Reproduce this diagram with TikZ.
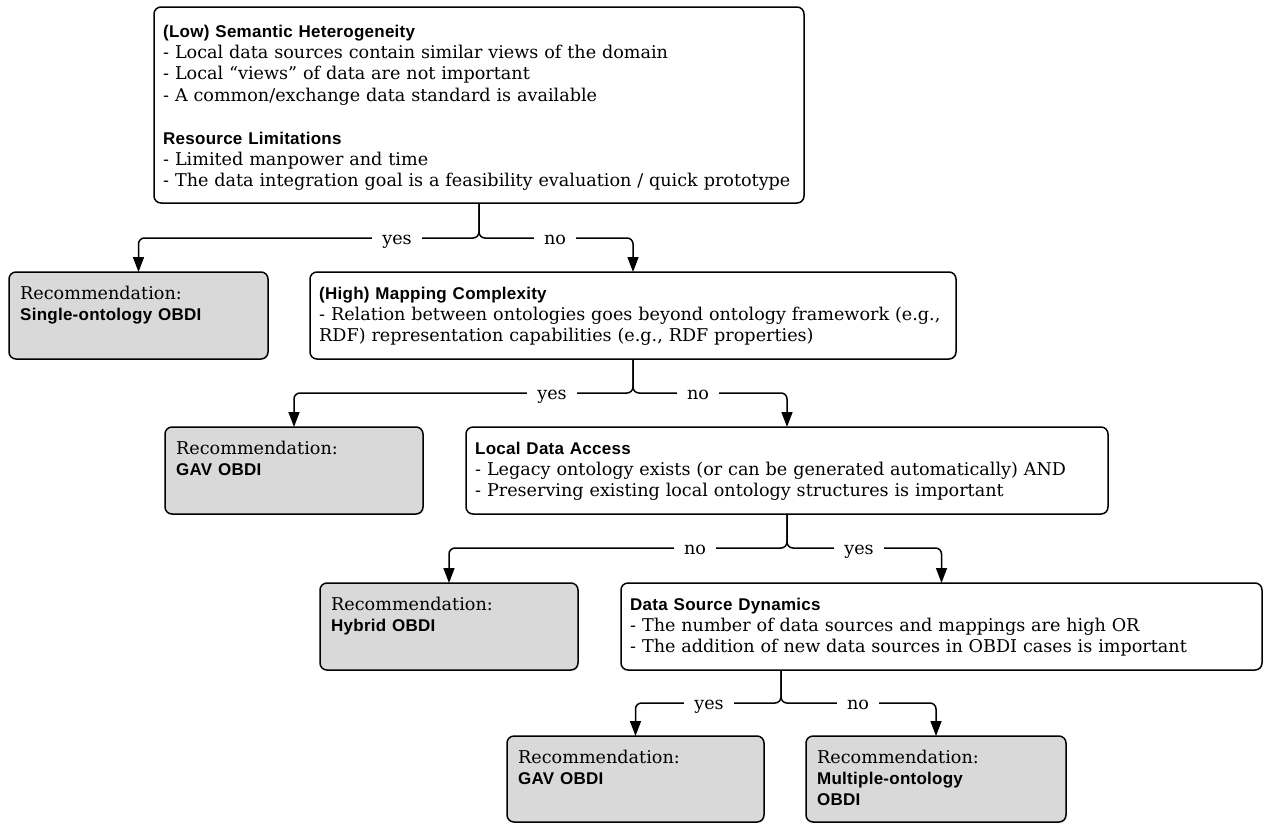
\documentclass[tikz,border=0pt]{standalone}
\usepackage{fontspec}
\setmainfont{DejaVu Serif}
\newfontfamily\hdfam[LetterSpace=1.5]{Liberation Sans}
\usetikzlibrary{arrows.meta}
\definecolor{recfill}{RGB}{217,217,217}
\newcommand\bodyfont{\fontsize{17.6}{21.4}\selectfont}
\newcommand\hdf{\hdfam\bfseries\fontsize{17}{21.4}\selectfont}
\tikzset{
  box/.style={draw, line width=1.5pt, rounded corners=7pt, anchor=north west, inner sep=0pt, outer sep=0pt},
  cond/.style={box, fill=white},
  rec/.style={box, fill=recfill},
  txt/.style={anchor=base west, inner sep=0pt, align=left, font=\bodyfont},
  lbl/.style={fill=white, inner xsep=10pt, inner ysep=3pt, font=\bodyfont, anchor=base},
  flow/.style={line width=1.5pt, rounded corners=6pt, -{Triangle[length=15pt,width=11pt]}},
}
\begin{document}
\begin{tikzpicture}[x=1pt, y=-1pt]
\useasboundingbox (0,0) rectangle (1264,823);
% boxes
\node[cond, minimum width=650pt, minimum height=196pt] (b1) at (154,7) {};
\node[rec,  minimum width=259pt, minimum height=87pt] (r1) at (9,272) {};
\node[cond, minimum width=646pt, minimum height=87pt] (b2) at (310,272) {};
\node[rec,  minimum width=258pt, minimum height=87pt] (r2) at (165,427) {};
\node[cond, minimum width=642pt, minimum height=87pt] (b3) at (466,427) {};
\node[rec,  minimum width=258pt, minimum height=87pt] (r3) at (320,583) {};
\node[cond, minimum width=641pt, minimum height=87pt] (b4) at (621,583) {};
\node[rec,  minimum width=257pt, minimum height=86pt] (r4) at (507,736) {};
\node[rec,  minimum width=260pt, minimum height=86pt] (r5) at (806,736) {};
% texts
\node[txt, text width=635pt] (t1) at ([xshift=9pt,yshift=-30pt]b1.north west)
  {{\hdf (Low) Semantic Heterogeneity}\\
   - Local data sources contain similar views of the domain\\
   - Local “views” of data are not important\\
   - A common/exchange data standard is available\\[21.4pt]
   {\hdf Resource Limitations}\\
   - Limited manpower and time\\
   - The data integration goal is a feasibility evaluation / quick prototype};
\node[txt, text width=240pt] (tr1) at ([xshift=11pt,yshift=-27pt]r1.north west)
  {Recommendation:\\{\hdf Single-ontology OBDI}};
\node[txt, text width=635pt] (t2) at ([xshift=9pt,yshift=-27pt]b2.north west)
  {{\hdf (High) Mapping Complexity}\\
   - Relation between ontologies goes beyond ontology framework (e.g.,\\
   RDF) representation capabilities (e.g., RDF properties)};
\node[txt, text width=628pt] (t3) at ([xshift=9pt,yshift=-27pt]b3.north west)
  {{\hdf Local Data Access}\\
   - Legacy ontology exists (or can be generated automatically) AND\\
   - Preserving existing local ontology structures is important};
\node[txt, text width=240pt] (tr2) at ([xshift=11pt,yshift=-27pt]r2.north west)
  {Recommendation:\\{\hdf GAV OBDI}};
\node[txt, text width=240pt] (tr3) at ([xshift=11pt,yshift=-27pt]r3.north west)
  {Recommendation:\\{\hdf Hybrid OBDI}};
\node[txt, text width=628pt] (t4) at ([xshift=9pt,yshift=-27pt]b4.north west)
  {{\hdf Data Source Dynamics}\\
   - The number of data sources and mappings are high OR\\
   - The addition of new data sources in OBDI cases is important};
\node[txt, text width=240pt] (tr4) at ([xshift=11pt,yshift=-27pt]r4.north west)
  {Recommendation:\\{\hdf GAV OBDI}};
\node[txt, text width=240pt] (tr5) at ([xshift=11pt,yshift=-27pt]r5.north west)
  {Recommendation:\\{\hdf Multiple-ontology}\\{\hdf OBDI}};
% connectors
\draw[flow] (b1.south) -- ++(0,35) -| (r1.north);
\draw[flow] (b1.south) -- ++(0,35) -| (b2.north);
\draw[flow] (b2.south) -- ++(0,34) -| (r2.north);
\draw[flow] (b2.south) -- ++(0,34) -| (b3.north);
\draw[flow] (b3.south) -- ++(0,34) -| (r3.north);
\draw[flow] (b3.south) -- ++(0,34) -| (b4.north);
\draw[flow] ([xshift=-160.5pt]b4.south) -- ++(0,33) -| (r4.north);
\draw[flow] ([xshift=-160.5pt]b4.south) -- ++(0,33) -| (r5.north);
% labels
\node[lbl] (y1) at (397,244) {yes};
\node[lbl] (n1) at (555,244) {no};
\node[lbl] (y2) at (552,399) {yes};
\node[lbl] (n2) at (698,399) {no};
\node[lbl] (n3) at (695,554) {no};
\node[lbl] (y3) at (859,554) {yes};
\node[lbl] (y4) at (709,709) {yes};
\node[lbl] (n4) at (858,709) {no};
\end{tikzpicture}
\end{document}
